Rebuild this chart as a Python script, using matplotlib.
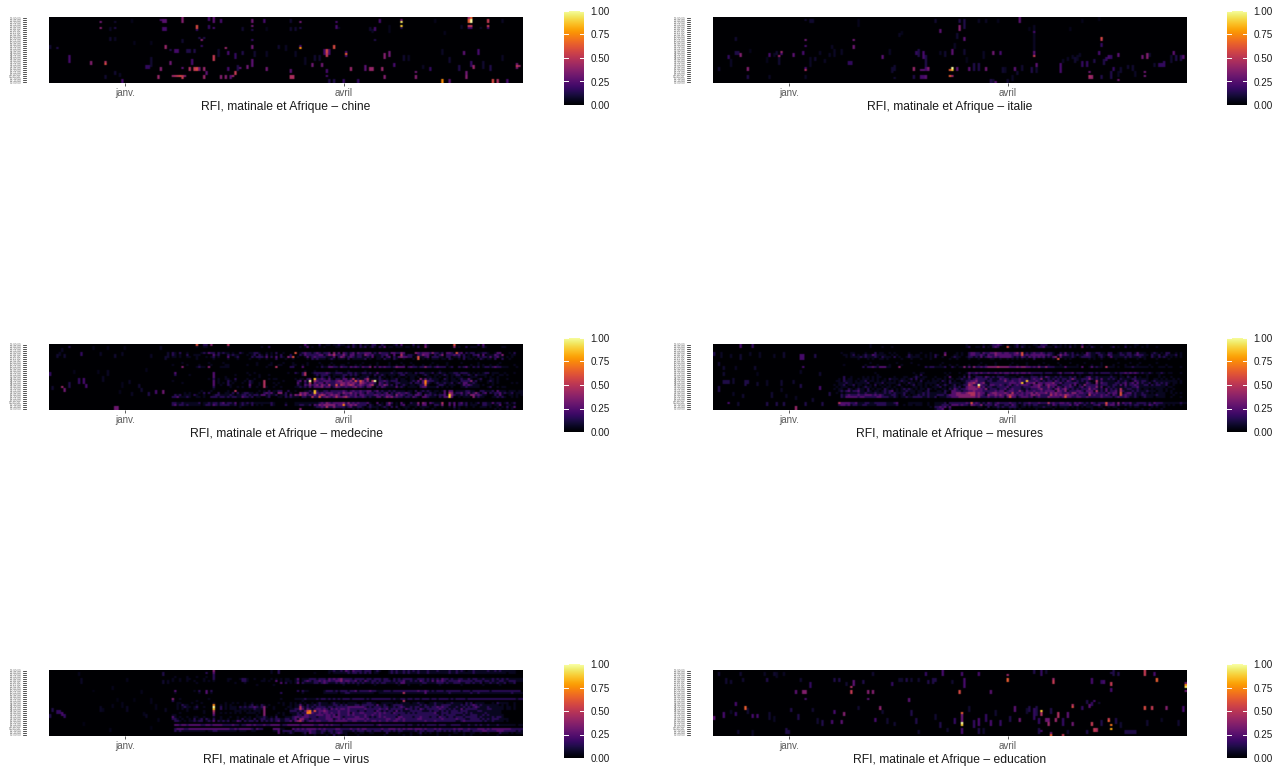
import datetime as dt

import matplotlib
matplotlib.use("Agg")
import matplotlib.dates as mdates
import matplotlib.pyplot as plt
import numpy as np

plt.rcParams["font.family"] = ["Liberation Sans", "DejaVu Sans"]

FIG_W, FIG_H = 1287, 767
N_DAYS, N_ROWS = 197, 33
START = dt.date(2019, 12, 1)
DENSE_FROM = 50  # the row strings start at this day
CONTRAST = 1.3  # my eye read the faint cells too high

TICK_DATES = [dt.date(2020, 1, 1), dt.date(2020, 4, 1)]
TICK_LABELS = ["janv.", "avril"]
BAR_TICKS = [0.0, 0.25, 0.5, 0.75, 1.0]
SLOTS = [f"{5 + i // 4:02d}:{(i % 4) * 15:02d}:00" for i in range(N_ROWS)][::-1]

# sparse cells: (day, first row, last row, value)
CHINE = [
    (21,2,2,.4),(21,5,5,.45),(27,2,2,.15),(27,5,5,.2),(30,31,32,.3),(46,1,1,.3),(47,1,2,.35),(48,1,2,.35),
    (47,5,6,.3),(48,5,6,.3),(55,0,2,.45),(61,4,5,.65),(61,6,6,.25),(63,11,11,.45),(64,10,10,.2),(62,10,10,.2),
    (66,0,1,.3),(66,4,5,.25),(68,0,2,.35),(68,5,5,.3),(71,1,2,.3),(48,14,15,.5),(84,1,2,.4),(84,4,4,.4),(84,6,6,.2),
    (84,11,11,.25),(84,14,15,.4),(89,1,2,.3),(104,2,2,.4),(104,5,5,.2),(104,15,15,.8),(104,14,14,.3),(119,2,2,.3),
    (119,4,5,.3),(146,1,1,.4),(146,2,2,.95),(146,4,4,.9),(146,5,5,.2),(174,0,0,.5),(175,0,0,.7),(174,1,2,.7),
    (175,1,2,1.0),(174,4,4,.6),(175,4,4,.6),(174,5,5,.3),(175,5,5,.3),(182,1,2,.6),(182,4,4,.6),(182,5,5,.3),
    (118,14,15,.65),(115,16,17,.65),(115,18,19,.6),(114,16,18,.3),(116,16,18,.3),(123,17,17,.3),(123,18,18,.7),
    (123,19,19,.3),(139,18,20,.45),(141,17,19,.4),(172,17,18,.35),(176,24,25,.5),(178,16,18,.3),(194,23,23,.4),
    (194,24,24,.6),(194,25,25,.4),(195,24,24,.5),(68,19,21,.6),(73,15,15,.5),(74,17,18,.3),(8,19,22,.3),(17,22,23,.45),
    (23,22,22,.55),(23,23,23,.65),(3,15,15,.2),(0,14,15,.15),(59,21,23,.3),(58,25,26,.55),(61,25,26,.65),(60,25,26,.6),
    (55,25,25,.35),(50,22,23,.4),(46,25,26,.45),(45,29,30,.5),(51,29,29,.5),(52,29,29,.55),(53,29,29,.6),(54,29,29,.65),
    (55,29,30,.6),(56,29,29,.45),(64,29,30,.5),(64,25,26,.5),(65,27,28,.35),(62,25,26,.4),(71,29,30,.45),(73,29,30,.45),
    (76,29,29,.5),(77,27,28,.6),(79,25,25,.35),(82,24,25,.4),(84,21,24,.35),(90,25,26,.4),(74,25,26,.3),(75,29,30,.35),
    (100,29,30,.55),(101,29,30,.55),(100,26,27,.35),(109,23,24,.4),(113,23,24,.4),(125,25,26,.5),(131,24,26,.35),(133,25,26,.5),
    (134,25,26,.5),(138,25,26,.5),(139,29,30,.45),(152,27,27,.4),(152,29,30,.45),(163,31,32,.8),(166,31,32,.35),(173,27,28,.4),
    (173,29,30,.45),(184,31,32,.65),(186,31,32,.55),(190,31,32,.3),(175,22,24,.25),(143,23,24,.3),(115,26,27,.3),(115,29,29,.3),
    (118,31,32,.2),(116,31,32,.2),(122,31,32,.25),(128,31,32,.25),(40,24,25,.25),(41,24,25,.25),(42,20,24,.15),(29,28,29,.12),
    (27,27,28,.15),(23,29,30,.15),(50,16,16,.2),(52,16,17,.3),(53,16,17,.3),(57,16,17,.2),(58,16,17,.2),(60,16,17,.2),
    (63,14,14,.25),(70,16,19,.15),(77,18,20,.25),(78,24,26,.2),(80,17,18,.2),(85,17,19,.15),(90,17,19,.12),(95,14,15,.15),
    (98,14,16,.12),(102,17,19,.12),(106,20,23,.12),(110,19,21,.15),(112,19,21,.15),(120,5,5,.12),(134,6,7,.12),(135,11,11,.2),
    (141,4,7,.1),(160,1,2,.1),(164,7,8,.1),(171,4,5,.12),(179,5,5,.12),(188,1,2,.12),(147,19,21,.15),(149,19,21,.12),
    (155,24,25,.12),(158,25,26,.25),(163,16,18,.12),(166,20,22,.15),(170,24,26,.2),(180,22,25,.15),(183,24,26,.2),(188,19,21,.12),
    (55,11,12,.15),(27,10,11,.12),(25,10,11,.15),(35,12,13,.1),(42,12,13,.1),(25,5,6,.12),(34,1,2,.1),(80,5,6,.15),(90,5,6,.1),
    (100,1,2,.15),(100,5,6,.15),(102,5,6,.15),(133,5,6,.15),(135,5,6,.3),(137,1,2,.3),
]

ITALIE = [
    (38,1,1,.15),(38,11,11,.4),(38,14,14,.3),(38,25,25,.3),(38,26,26,.55),(40,1,2,.15),(41,1,2,.15),(14,25,26,.45),
    (2,25,26,.15),(6,19,20,.25),(7,21,24,.12),(9,17,18,.2),(10,17,18,.2),(11,18,19,.45),(9,10,11,.15),(23,18,19,.3),
    (28,17,17,.5),(28,18,18,.3),(27,19,19,.5),(27,20,22,.15),(33,18,19,.35),(37,17,18,.3),(58,11,11,.4),(58,14,15,.4),
    (56,22,23,.25),(57,22,23,.25),(70,19,20,.35),(94,6,7,.35),(102,4,6,.45),(104,10,11,.35),(99,25,25,1.0),(99,26,26,.9),
    (98,26,26,.7),(98,29,29,.7),(99,29,29,.5),(99,16,18,.35),(89,25,25,.45),(89,26,26,.4),(88,25,26,.3),(86,26,26,.35),
    (87,26,26,.35),(86,29,30,.3),(87,29,30,.3),(88,29,30,.35),(83,25,26,.5),(83,29,30,.2),(101,25,26,.35),(106,25,26,.35),
    (113,25,26,.4),(116,17,18,.4),(119,17,18,.3),(125,25,26,.35),(133,17,17,.35),(133,18,18,.3),(133,19,19,.6),(133,6,7,.3),
    (134,23,24,.35),(127,0,2,.35),(161,10,10,.65),(161,11,11,.6),(161,13,14,.25),(160,17,18,.3),(156,29,29,.55),(156,30,30,.5),
    (156,27,27,.4),(157,29,30,.5),(155,22,24,.25),(153,22,24,.25),(164,19,20,.3),(165,19,20,.25),(168,18,19,.35),(168,31,31,.4),
    (178,19,20,.4),(180,18,20,.45),(179,27,27,.4),(179,29,29,.4),(185,23,24,.25),(186,23,24,.25),(187,22,24,.25),(191,17,18,.35),
    (195,19,20,.35),(144,23,27,.3),(117,32,32,.35),(102,1,2,.2),(104,1,5,.2),(100,13,15,.12),(101,8,10,.15),(104,16,18,.15),
    (96,17,19,.15),(94,17,18,.12),(92,1,2,.15),(85,16,19,.2),(84,17,18,.25),(87,17,20,.3),(88,19,24,.2),(120,25,27,.15),(121,25,27,.12),
    (128,24,26,.15),(132,25,27,.2),(134,25,27,.15),(133,8,16,.12),(112,17,20,.12),(110,23,26,.2),(108,23,26,.2),(105,20,22,.1),
    (75,30,30,.15),(74,25,27,.15),(75,24,26,.15),(73,16,18,.12),(77,8,9,.12),(78,7,8,.1),(60,1,4,.1),(50,16,19,.12),(53,16,18,.12),
    (40,20,24,.12),(42,20,21,.15),(44,17,18,.12),(49,14,15,.12),(48,18,19,.12),(46,21,22,.12),(38,29,30,.12),(14,29,30,.2),
    (23,29,30,.12),(27,21,23,.15),(26,17,18,.15),(25,18,19,.12),(22,20,22,.1),(15,16,17,.1),(115,31,32,.2),(116,31,32,.15),
    (122,31,32,.15),(124,29,31,.12),(126,27,28,.15),(150,20,22,.15),(151,19,21,.12),(158,21,22,.2),(162,21,23,.2),(163,20,21,.25),
    (166,25,26,.25),(169,25,27,.15),(172,24,25,.15),(174,24,26,.15),(181,18,19,.15),(183,23,24,.15),(190,19,22,.15),(192,19,21,.2),
    (194,19,21,.2),(145,21,22,.12),(147,20,21,.12),(149,19,20,.12),(152,18,19,.12),(161,29,30,.2),(165,27,30,.2),(168,27,29,.12),
    (175,27,29,.12),(110,1,2,.12),(113,1,2,.12),(118,1,2,.1),(131,5,6,.1),(133,4,6,.12),(148,5,6,.1),(160,0,1,.1),(153,1,2,.1),
]

EDUCATION = [
    (103,21,21,.7),(103,22,22,.4),(103,23,25,.38),(103,26,26,1.0),(103,27,27,.9),(179,0,2,.6),(184,4,5,.7),(183,1,2,.3),
    (122,2,2,.5),(122,4,5,.7),(141,4,4,.5),(141,5,6,.6),(165,6,7,.6),(165,9,10,.3),(157,4,6,.3),(196,6,6,.4),(196,7,7,.8),
    (196,8,8,.95),(196,10,10,.4),(102,10,11,.65),(57,8,8,.55),(57,10,11,.6),(58,5,7,.35),(64,10,11,.45),(66,10,11,.45),
    (64,14,14,.35),(34,10,11,.35),(37,10,11,.45),(38,10,11,.45),(38,14,14,.3),(40,6,7,.25),(13,18,19,.7),(9,16,17,.3),
    (0,23,24,.35),(4,21,23,.3),(16,22,23,.3),(18,22,23,.3),(54,21,22,.45),(50,20,21,.3),(49,25,26,.3),(53,25,26,.35),
    (69,18,18,.45),(69,19,19,.5),(81,14,15,.35),(67,24,25,.3),(136,20,20,.9),(136,21,22,.55),(138,24,25,.4),(139,24,25,.4),
    (143,21,23,.55),(139,26,27,.5),(142,24,25,.5),(147,21,23,.35),(149,17,17,.55),(149,18,18,.65),(149,26,27,.4),(158,15,15,.3),
    (156,17,18,.35),(179,18,19,.65),(182,18,19,.6),(188,18,19,.45),(164,24,24,.6),(164,25,25,.7),(165,27,27,.75),(165,29,29,.85),
    (157,26,27,.6),(158,29,30,.6),(159,29,30,.55),(140,31,31,.4),(140,32,32,.7),(145,32,32,.6),(171,30,31,.2),(172,30,31,.2),
    (173,30,31,.2),(174,30,31,.2),(175,30,31,.2),(125,18,20,.35),(127,24,25,.4),(115,10,11,.35),(104,4,8,.3),(95,0,2,.3),
    (103,1,2,.3),(110,1,2,.3),(74,6,7,.25),(22,4,5,.2),(40,6,8,.25),(12,4,5,.15),(2,1,2,.15),(5,4,6,.15),(7,5,6,.15),(11,1,2,.15),
    (21,1,2,.12),(25,1,2,.15),(26,1,3,.12),(29,1,2,.12),(36,4,5,.15),(50,4,5,.2),(52,4,5,.2),(55,6,7,.15),(62,5,6,.2),(66,1,2,.15),
    (77,4,5,.15),(78,4,5,.15),(80,4,5,.2),(82,4,5,.15),(85,4,5,.15),(88,1,2,.25),(89,5,6,.2),(91,4,6,.2),(92,4,5,.2),(99,5,6,.15),
    (9,21,22,.25),(7,20,21,.12),(14,19,21,.15),(23,21,24,.15),(25,23,25,.12),(32,19,20,.2),(35,22,24,.2),(41,19,20,.15),(43,24,26,.15),
    (45,25,27,.2),(60,18,19,.15),(70,20,21,.15),(72,24,26,.15),(75,26,27,.15),(82,20,22,.2),(84,24,26,.2),(92,22,24,.15),(94,26,28,.2),
    (100,24,26,.25),(106,18,20,.15),(108,25,28,.25),(110,24,27,.3),(113,22,25,.25),(115,25,27,.3),(117,20,22,.15),(119,25,27,.25),(123,23,25,.2),
    (130,19,21,.15),(131,18,20,.2),(133,19,24,.25),(134,18,22,.2),(135,24,26,.25),(140,19,21,.2),(145,24,27,.25),(153,18,19,.25),(155,15,16,.2),
    (157,16,17,.25),(160,16,16,.15),(161,25,27,.2),(167,24,26,.2),(169,26,28,.15),(180,25,27,.15),(186,24,25,.12),(193,25,27,.15),(195,18,20,.3),
    (110,29,31,.2),(112,29,31,.15),(103,29,31,.3),(97,29,30,.15),(85,30,31,.15),(30,29,31,.2),(31,30,31,.2),(10,30,31,.15),(16,30,32,.12),
    (135,29,31,.2),(136,30,30,.3),(147,30,31,.15),(155,30,31,.2),(166,0,2,.2),(168,1,2,.2),(165,1,1,.2),(161,5,6,.25),(162,5,6,.3),(133,0,1,.2),(136,0,2,.25),(138,0,1,.15),
]

# left part of the dense panels (days before DENSE_FROM)
MEDECINE_LEFT = [
    (5,21,21,.5),(6,22,23,.4),(0,14,15,.25),(1,21,22,.15),(8,19,21,.2),(12,17,19,.25),(14,17,19,.3),(15,20,21,.3),(8,1,1,.2),(13,4,5,.25),
    (3,5,6,.15),(6,5,6,.15),(21,4,5,.12),(27,5,6,.15),(30,4,5,.12),(24,13,15,.12),(22,16,18,.12),(37,20,21,.15),(33,18,19,.12),(38,22,23,.15),
    (44,23,24,.3),(47,23,24,.4),(41,24,25,.2),(27,31,32,.4),(28,31,32,.4),(42,5,6,.12),(46,1,2,.12),(48,6,7,.15),(49,4,6,.15),(30,19,21,.1),
    (34,24,25,.12),(29,23,24,.1),(20,13,14,.1),(10,13,14,.1),(18,1,2,.1),(24,1,2,.1),(31,1,2,.1),(40,12,13,.1),(5,2,3,.12),(4,4,5,.12),
]
MESURES_LEFT = [
    (11,0,1,.3),(16,0,1,.25),(34,31,32,.5),(3,4,6,.12),(7,5,6,.12),(11,5,7,.15),(15,4,5,.12),(19,4,6,.12),(25,5,6,.12),(29,4,6,.15),(36,5,7,.3),(37,5,7,.3),
    (42,5,6,.2),(4,18,19,.2),(5,18,19,.2),(6,18,19,.2),(8,17,19,.15),(13,18,20,.2),(14,18,19,.2),(18,19,20,.15),(22,18,20,.12),(28,18,20,.15),(33,18,19,.15),
    (36,20,21,.2),(44,21,22,.3),(2,21,23,.2),(8,24,25,.12),(12,25,26,.15),(24,24,26,.15),(30,25,26,.12),(48,24,25,.2),(6,29,29,.3),(10,29,30,.15),(22,29,30,.2),
    (26,29,30,.2),(29,29,30,.2),(38,29,30,.2),(45,29,30,.2),(4,11,12,.15),(9,11,12,.12),(17,11,12,.15),(37,11,11,.3),(0,4,5,.2),(2,9,10,.15),(36,13,14,.12),
    (4,14,15,.15),(44,14,15,.15),(18,14,15,.1),(28,22,23,.12),(34,26,27,.12),(41,27,28,.15),
]
VIRUS_LEFT = [
    (1,19,20,.2),(3,20,21,.25),(4,20,21,.25),(5,21,22,.3),(6,22,23,.25),(0,22,23,.2),(13,4,6,.12),(12,1,2,.1),(21,18,20,.12),(22,19,20,.1),(26,17,18,.1),(30,16,18,.1),
    (32,18,20,.12),(44,17,19,.1),(48,19,20,.12),(47,1,2,.2),(47,5,6,.15),(49,5,6,.12),(42,14,16,.1),(32,4,5,.1),(26,8,9,.1),(18,10,10,.08),(40,22,23,.12),(45,24,25,.1),
    (39,21,22,.1),(14,26,27,.08),(25,29,30,.1),(42,28,29,.08),(38,10,11,.1),(28,14,15,.08),(35,14,15,.08),
]

# dense part, one digit per day from DENSE_FROM on (0 = none, 9 = maximum)
MEDECINE_ROWS = [
    "0000000000 0600220400 0000500000 0000000000 0000000000 0000003100 0020011011 2110102102 0110220021 0001203000 0201003100 0000000060 0000000020 3000000000 0000000",
    "0000000000 0100110000 0000100000 0000000010 0200000000 0000101301 0010100001 1001202102 1201210213 0110111011 0102004100 0000000040 1002011100 2100000011 0000000",
    "0000000000 0000000000 0000000000 0000000000 0000000000 0000000000 0000000000 0000000000 0000000000 0000000000 0000000000 0000000000 0000000000 0000000000 0000000",
    "0000000000 0000000000 0000000000 0000000000 0000000000 0000000000 0000000000 0000000000 0000000000 0000000000 0000000000 0000000000 0000000000 0000000000 0000000",
    "0210200100 0001213220 2121101002 1001122100 1010200100 0060123221 2321223041 3032123132 2333121322 2133224300 0043233324 2212033216 2302122011 2210013300 0102000",
    "0210100200 1110000031 2000212110 0010120210 2010102000 2000213222 2233124352 2242133122 1432311122 3103005212 2102243310 2124022232 3120102230 3011132140 0011000",
    "0110100110 0100010120 1000300120 0000212221 3020302104 2601001312 3222211130 2431232122 1121301120 2302134332 2016112302 2211022011 2021101021 2213123110 1010000",
    "0000000000 0100000010 0000100010 0001000100 1000200010 0100000102 1211101210 1110201111 1201001102 1102100100 0106010101 1101102100 1020110102 1011020020 0100000",
    "0000000000 0000000000 0000000000 0000000000 0000000000 0000000000 0000000000 0000000000 0000000000 0000000000 0000000000 0000000000 0000000000 0000000000 0000000",
    "0000010000 0000001000 0010000000 0000001000 0010000100 0100000100 0010000100 0000100000 1000001000 0100001000 1000000001 0000010000 0100000010 0000000100 0000000",
    "0100000100 0010000100 0001100000 0010001000 0110011000 0110010100 0001001010 0110000101 0001001000 0100100100 0100010010 0100010000 0000010010 1001001000 0001000",
    "0000040000 0121104000 0111100000 0000000000 1000500000 2200030000 0102113322 1322132321 3224031323 2212433302 3221224221 2322201200 2123102120 1221232211 1000100",
    "0000000000 0000000000 0000000000 0000000000 0000000000 0000000000 0000000000 0000000000 0000000000 0000000000 0000000000 0000000000 0000000000 0000000000 0000000",
    "0000000000 0000000000 0000000000 0000000000 0000000000 0000001000 1000000001 0000100000 0100000000 0001000000 0000000000 0010000000 0000000000 0000000000 0000000",
    "0030000000 0000000030 0000000000 0010010000 0000000001 0021025001 2222232112 2211221211 2212113111 1121122121 1021221112 0121101122 1222101010 1220111001 0001000",
    "0020000010 0000000030 0000000100 0001000100 0100000000 0000025000 1212221011 1122121210 1111021121 0111012201 1110012100 1101210112 2011210211 1100100110 1000000",
    "0000000000 0000000030 0001000000 0000000100 0000000000 0000000000 0102102010 0120010101 1120010201 0010010010 1101000110 1010010101 1100011100 0101001000 0000000",
    "0000000000 0000001020 1001100200 0010010000 0101100000 0010110230 8223213102 2133125121 1351111210 1011201100 1100413121 1100210110 1211310012 0001101000 1000000",
    "0100000000 0000000030 1000210100 0102100005 0000000100 0002303190 5322333223 4423342636 4241590223 2122201110 1213137322 1101110111 0222241201 0012101000 0000000",
    "0000010000 0000000030 1010201000 1002100105 0001010000 0003102150 3233132223 3443434325 4323320321 2101221111 2022137210 1211211201 2133112100 0010101000 0010100",
    "0000000000 0000000030 0100210000 0003000105 0000100000 0002103242 3424325226 2543454234 3234511324 3120201210 1101226100 0122101110 0132321110 1000100000 0000000",
    "0000000000 0000000020 0000010010 1002001005 1001001000 0011212131 3334233124 3223223423 2133102132 1111312101 1110233111 1201010100 0112111110 0012001011 0000000",
    "0000000000 0000000010 0000000000 0000000000 0000000000 0000000000 0000000000 0000000000 0000000000 0000000000 0000000000 0000000000 0000000000 0000000000 0000000",
    "0000000000 0001000100 0000100500 0000000101 0201122002 0010001121 8211221222 2232123223 2233123121 1212111101 1020121210 1101303301 1112211002 2111203111 0111011",
    "0000001010 0010202000 2001102020 1221101002 3231044020 1000434312 8323233322 3243342323 2132212212 3021232232 1013201121 1010305412 2312312420 2302122312 1120111",
    "0021201110 2100100012 2111121011 2212122133 1211201120 3143534232 4245423434 3123232313 3222233232 3321423212 2133203221 2122318421 1212144232 1100021310 0110101",
    "0223111210 0110100222 1221212211 3221201100 1200011021 2111022115 2262343235 3345322322 3212113312 4342322122 1321033211 1021338300 1011104121 1000112121 0010100",
    "0000000000 0000000000 0000000000 0000000000 0000000000 0000000000 0000000000 0000000000 0000000000 0000000000 0000000000 0000000000 0000000000 0000000000 0000000",
    "0000000000 0000000000 0000000000 0000000000 0000000000 0000000000 0000000000 0000000000 0000000000 0000000000 0000000000 0000000000 0000000000 0000000000 0000000",
    "0221121111 1120112122 1231221301 2121211111 1121000010 0011111111 1123243233 3342423232 2231003010 2420103100 2114043032 1115003130 2312010120 2211312201 2012000",
    "0231221211 1110122132 1222211201 2110201010 0021000020 0011221120 3243444442 3372343422 2202101210 2310102301 1113033010 2214003030 2212011100 2211011300 1101000",
    "0000000000 0000000000 0000000001 0000000000 0000000000 0000000000 1223252242 2221231122 1012111012 1020200111 0010111100 1001001020 1001001001 1101001010 2013000",
    "0000000000 0000000000 0000000000 0000000000 0000000000 0000400000 0001000010 0010001010 1001001000 1000010010 0100010001 0000000010 1000000000 0000010100 1010000",
]

MESURES_ROWS = [
    "0000000000 0000010000 0000000000 0000000000 0000000000 0000010000 0010012232 1010012011 0001102220 0110101010 1002001000 0000000000 0100011000 1000000000 0000000",
    "0000000000 0000010000 1000100000 0000000000 0000000000 0000012001 1020102320 0061012021 0100122311 1021101020 1004010210 0100012010 0201010010 1000100000 0000000",
    "0000000000 0000000000 0000000000 0000000000 0000000000 0000000000 0000000000 0000000000 0000000000 0000000000 0000000000 0000000000 0000000000 0000000000 0000000",
    "0000000000 0000000000 0000000000 0000000000 0000000000 0000000000 0000000000 0000000000 0000000000 0000000000 0000000000 0000000000 0000000000 0000000000 0000000",
    "0001000110 0001000201 1001010000 0100001000 1000003000 0101002332 2132233433 2332234261 2123223212 2100213112 0101032112 2110220012 1122013111 0012101022 0010100",
    "0000110120 1012113211 1100101000 0210110010 1021004000 1101002332 2321322433 3333233262 3233333323 2102423212 1211232110 2211321112 2122123221 1021120121 1120100",
    "0000010111 1212111210 2111020100 1211110010 1020010001 2110012212 1312332323 3333212132 1323232312 1340311112 1012222110 1210131111 1212111211 0021021210 1010100",
    "0000000000 1000101001 1010000010 0010001000 1000000010 0100001000 1000011001 0010101010 1002000100 0106001010 0000001010 0100000100 0100001001 0000100001 0000000",
    "0000000000 0000000000 0000000000 0000000000 0000000000 0000000000 0000000000 0000000000 0000000000 0000000000 0000000000 0000000000 0000000000 0000000000 0000000",
    "0000000000 0000010000 0000001000 0010000000 0000010000 0000000000 0100000100 0000100000 1000000100 0001000010 0000100000 0100000010 0001000100 0000100000 0000000",
    "0000100000 0001000010 0001000010 0000010000 0000100010 0100001000 1001000100 0001001000 1000010001 0000100000 0100000100 0100001000 0100001000 0100000010 0000000",
    "0000000000 0020223213 3311000400 0000000021 2211112002 1011413142 2323444454 4443334344 3323242242 2211113111 1103001312 1105111010 0111211111 1010011101 1000100",
    "0000000000 0000000000 0000000000 0000000000 0000000000 0000000000 0000000000 0000000000 0000000000 0000000000 0000000000 0000000000 0000000000 0000000000 0000000",
    "0000000000 0000000000 0000000000 0000000000 0000000000 0000000000 0000000000 0000000000 0000000000 0000000000 0000000000 0000000000 0000000000 0000000000 0000000",
    "0000000000 0000000100 0000000000 0001001100 0000001010 0010013223 2322322323 2332323233 2322222122 2112312223 1222112212 1222211212 2323232121 1210112101 1000100",
    "0000000000 0000000010 0000000000 0000102000 0000000100 0000102011 0000000010 0110001000 0010001000 0000100000 0010000100 0000010001 0010000000 1000010000 0000000",
    "0000200100 0010101011 0000010001 1001210110 0010001030 0010203102 2213212122 2111110121 1122212132 1121211121 2010123112 1111121101 1021020100 1000010100 1000000",
    "0010201100 1011101010 0102111011 0120201100 0101101011 0112112123 2222121113 2321222322 2123224112 1212122124 2112224212 1311212102 1111221111 1001101010 0101000",
    "0110211101 0112011010 1101010121 1010102001 0111021020 1001122334 2221221122 2422322322 8222321212 2132121321 1212121015 1211111021 1210132122 1012111111 1110100",
    "0011121101 1111200111 2011110101 0211011011 1110101021 1110124453 2341122222 2223332381 3334133233 3422312222 3211132104 1322111221 2312313121 1201212121 0110100",
    "1011201120 1101010201 0101001200 1012011010 1012012101 2011225422 9322133223 2123123233 3213343134 3331122231 3021422223 1222112213 1312232112 2021221120 0100000",
    "0101110010 1012110100 1011010010 0001101010 0111201011 2120134443 6231221122 2231222212 2233342224 2313213232 1123123224 1301212111 1211223111 1111111101 1000000",
    "1011002101 2110201011 0210101012 1210101102 1010011021 3212234444 3324122212 2312322211 2122234223 2134234212 1212224232 1213121215 1122112101 1010111010 0100000",
    "0012123122 3110210110 1212301011 2111011012 0001102103 3221223343 3322222323 3123322421 3223223233 3314324122 2332133315 1213122315 2111212111 2111011010 1000000",
    "0101011111 2112111211 1212121112 1011011212 1111112003 3443345553 4331234433 3432523232 3342433342 4343322324 4233224323 2221323316 1233121121 1010111100 1010100",
    "0002123222 3223332323 2111221012 0101121212 1112221233 3444444553 4321433434 3245432332 3244342222 5343435433 2322215232 2323213216 2322121122 1111211100 0100000",
    "0002133333 2332222233 2221121011 2112222112 1120111223 3344444443 4222322323 3136331233 3231232224 3333236332 2332232222 2322221232 2321121012 1110111100 1000100",
    "0000000000 0000000000 0000000000 0000000000 0000000000 0000000000 0000000000 0000000000 0000000000 0000000000 0000000000 0000000000 0000000000 0000000000 0000000",
    "0000000000 0000000000 0000000000 0000000000 0000000000 0000000000 0000000000 0000000000 0000000000 0000000000 0000000000 0000000000 0000000000 0000000000 0000000",
    "0053333223 1112211222 2211123000 0111111001 0011112022 2222232623 2121321232 2223221212 2322232225 2322332321 3232121321 2226223141 3223112222 1213222111 1111211",
    "0023323122 1122111122 2211112001 0110111001 0011122213 3323221432 2412221321 1221321012 1212211112 1321222231 2311211122 3115233131 1212122112 1321211101 0100100",
    "0000000000 0000000000 0000000000 0000000000 1022323130 0000000000 1100201121 2112221011 0101111211 1010111101 0101011100 1100101100 0001011000 0010100100 0000000",
    "0000000000 0000000000 0000000000 0000000000 0012230020 0000000000 0001000010 0001010100 0000100000 0100001000 0100000100 0010000010 0100000010 0100001000 0000000",
]

VIRUS_ROWS = [
    "0000000000 0000000040 0000000000 0000000000 0010020000 0000000000 0000001121 1213213222 1222012100 0121211212 1212111211 1211112112 1210112111 1121121211 1111000",
    "0000000000 0000020030 0000000000 0000000000 0010020000 0000000000 1000001011 1111212212 1212011000 0121211212 1112111211 1111112112 1111112111 1111111111 0111000",
    "0000000000 0000000020 0000000000 0000000000 0000000000 0000000000 0000000000 0000000000 0000000000 0000000000 0000000000 0000000000 0000000000 0000000000 0000000",
    "0010000100 0100010020 0000000000 0000000000 0000000000 0000000000 0000000000 0000000000 0000000000 0000000000 0000000000 0000000000 0000000000 0000000000 0000000",
    "0100100110 0000100020 0000110001 2210010001 0010101011 0013011122 2122213232 3422221222 2122122212 2102121222 2112221212 1213221211 2211212211 2111212121 2111111",
    "0100100100 1000101010 0000100000 2210000011 0100301011 1012012321 2232323223 3423322312 1321221212 2212122311 2121321213 1323212222 3222221222 1221211221 1222111",
    "0000000000 0100000000 0000000100 0100000000 0000003020 1013021111 2212321112 1221212121 2111212122 1111213311 1111122111 1222121122 2112212112 0112112112 0112000",
    "0000000000 0000000000 0000000000 0000001000 0001000000 0000000000 0000000000 0010000010 0000010000 0000010001 0000100000 0010000000 0100000000 1000000100 0000000",
    "0000000000 0000000000 0000000000 0000000000 0000000000 0000000000 0000000000 0000000000 0000000000 0000000000 0000000000 0000000000 0000000000 0000000000 0000000",
    "0000000000 0000000000 0000000000 0000000000 0000000000 0000000000 0000000000 0000000000 0000000000 0000000000 0000000000 0000000000 0000000000 0000000000 0000000",
    "0030000000 1020030200 0000000000 0000000000 0000000000 0002021100 0000122212 1222122312 2223221112 2212222222 2223223212 1222122222 2122212222 2221222222 2222220",
    "0010000000 0010030100 0000000000 0000000000 0000002000 0000010000 0000111111 0112211111 1111100111 1111111511 1111113111 1111112111 1111121121 1111111111 1121111",
    "0000000000 0000000000 0000000000 0000000000 0000000000 0000000000 0000000000 0000000000 0000000000 0000000000 0000000000 0000000000 0000000000 0000000000 0000000",
    "0000000000 0000000000 0000000000 0000000000 0000000000 0000000000 0000000000 0000000000 0000000000 0000000000 0000000000 0000000000 0000000000 0000000000 0000000",
    "0400100000 0000001000 0000000000 0000000000 0000001000 0011112111 1212212121 2122212222 2121222222 2212112212 2122122212 2122221212 2221222222 2222222222 2222122",
    "0200000000 0100000000 0000000000 0000000000 0000000000 0000010000 0000000000 0000000000 0000000000 0000000500 0000000000 0000000000 0000000000 0000000000 0000000",
    "0001100001 0001000010 0001001010 0100100000 0000010100 1010101001 0121110121 1010111100 1122110011 1110101111 0112110011 2111011211 1102120111 1000102111 1001000",
    "0001021100 0100000070 0101010000 0101201021 0100000100 1011310211 2121111122 1212111221 2222213112 1012222111 1111212111 2112222111 1212123212 1111111010 1001000",
    "0001012110 1200100090 0201011102 1212232124 1001000001 1011521212 1222212212 2222333333 3212122212 2112123211 2122112212 2323221112 1121212321 1121111110 1101000",
    "0001010100 1100000080 0201011101 1111121114 0001000010 1122531321 2332321323 2332322222 2322222322 3122222132 2121321222 2232212121 1312222211 1122111110 1101000",
    "0000000100 0000100050 0000000111 0101011104 0000000000 2221213672 6233432222 3222322212 2122213212 1221312111 2222211121 2212121222 1222111122 1111111100 0000000",
    "0000100000 0000100040 0101010101 0011110104 0000010100 1112122773 2232332322 3222313223 3222232323 2213222212 1212222222 3112221222 2212121111 1211111100 0000000",
    "0110000000 0000000030 0000000000 0000001004 0000100100 0112213322 2333233231 3222323222 2322322322 2222212222 2222222222 2212122221 1121122211 2121111110 0000000",
    "0310100100 1100100010 0100010010 0101001112 1010200011 1233233322 2122233233 3212222332 2321212323 2222133222 2122322212 2132212212 2212222212 1111212210 0000000",
    "0221010010 2012021020 0100100010 2011020122 1121221122 1231442212 2222233312 3232333333 3232222222 3322332322 2223322222 2223222223 2221122221 2121222111 1000000",
    "0022101011 2122012130 2121201132 0212212021 2121231122 3134531233 2332223323 3333223322 2322332322 3223322322 2222223222 3222222221 1232222222 1211211110 1000000",
    "0000000000 0000000000 0000000000 0000000000 0000000000 0000000000 0000000000 0000000000 0000000000 0000000000 0000000000 0000000000 0000000000 0000000000 0000000",
    "0033233233 3332233233 3322223221 2233232223 2233331223 3333233333 2233232322 2122222222 2222212322 2222222212 2112121222 2122211222 2111211212 1121112111 1111011",
    "0000000000 0000000000 0000000000 0000000000 0000000000 0000000000 0000000000 0000000000 0000000000 0000000000 0000000000 0000000000 0000000000 0000000000 0000000",
    "0023332233 3333333333 3333322323 3333213220 0003331100 0323232333 3232322223 3222232232 3322222232 2333232323 3233323222 3232222232 3322322233 3232333333 3322222",
    "0021211111 1111101122 1111111101 1100110000 0001130222 2122222232 2112212212 2211112122 2122122212 2212122111 1121221222 1221212121 2122212222 3322223332 2222121",
    "0000000000 0000000000 0000000000 0000000000 0000030101 2100012032 2112101212 3211000101 1001100000 2000010000 1001201010 0100000011 0010011001 0010000211 1010111",
    "0000000000 0000000000 0000000000 0000000000 0000000000 0000001000 1000010020 1001000010 0000000001 0000000100 1000100000 0100001000 0010010000 0000001000 0000000",
]

PANELS = [
    ("chine", CHINE, None),
    ("italie", ITALIE, None),
    ("medecine", MEDECINE_LEFT, MEDECINE_ROWS),
    ("mesures", MESURES_LEFT, MESURES_ROWS),
    ("virus", VIRUS_LEFT, VIRUS_ROWS),
    ("education", EDUCATION, None),
]


def build_grid(cells, rows):
    grid = np.full((N_ROWS, N_DAYS), 0.012)
    if rows:
        for r, row in enumerate(rows):
            digits = row.replace(" ", "")
            for d, ch in enumerate(digits):
                if ch != "0" and DENSE_FROM + d < N_DAYS:
                    grid[r, DENSE_FROM + d] = int(ch) / 9
    for day, r0, r1, value in cells:
        grid[r0:r1 + 1, day] = value
    return grid ** CONTRAST


def axes_px(fig, left, top, width, height):
    return fig.add_axes([left / FIG_W, 1 - (top + height) / FIG_H, width / FIG_W, height / FIG_H])


def plot_heatmap(fig, left, top, name, grid):
    ax = axes_px(fig, left, top, 474, 66)
    first = mdates.date2num(START) - 0.5
    ax.imshow(grid, cmap="inferno", vmin=0, vmax=1, aspect="auto", extent=(first, first + N_DAYS, N_ROWS, 0))
    for spine in ax.spines.values():
        spine.set_visible(False)
    ax.set_xticks([mdates.date2num(d) for d in TICK_DATES], TICK_LABELS)
    ax.tick_params(axis="x", length=2, width=0.6, color="#444444", labelcolor="#5a5a5a", labelsize=7.1, pad=1.5)
    ax.set_xlabel(f"RFI, matinale et Afrique \u2013 {name}", fontsize=8.7, color="#1a1a1a", labelpad=2.0)
    ax.set_yticks(np.arange(N_ROWS) + 0.5, SLOTS)
    ax.tick_params(axis="y", length=0, labelsize=2.2, labelcolor="#808080", pad=20)
    # short dashes of the row guide, away from the panel
    for r in range(N_ROWS):
        y = 1 - (top + 2 * r + 1) / FIG_H
        fig.add_artist(plt.Line2D([(left - 26) / FIG_W, (left - 23) / FIG_W], [y, y], color="#222222", lw=0.55))


def plot_colorbar(fig, left, top):
    ax = axes_px(fig, left, top, 20, 94)
    gradient = np.linspace(1, 0, 256).reshape(-1, 1)
    ax.imshow(gradient, cmap="inferno", vmin=0, vmax=1, aspect="auto", extent=[0, 1, 0, 1])
    for spine in ax.spines.values():
        spine.set_visible(False)
    ax.set_xticks([])
    ax.yaxis.tick_right()
    ax.set_yticks(BAR_TICKS, [f"{t:.2f}" for t in BAR_TICKS])
    ax.tick_params(axis="y", length=0, labelsize=7.1, labelcolor="#1a1a1a", pad=4.5)
    for t in BAR_TICKS:
        ax.plot([0, 0.2], [t, t], color="white", lw=0.7, clip_on=False)
        ax.plot([0.8, 1], [t, t], color="white", lw=0.7, clip_on=False)
    ax.set_xlim(0, 1)
    ax.set_ylim(0, 1)


def main():
    fig = plt.figure(figsize=(FIG_W / 100, FIG_H / 100), dpi=100, facecolor="white")
    tops = [17, 344, 670]
    bar_tops = [11, 338, 664]
    lefts = [49, 713]
    bar_lefts = [564, 1227]
    for i, (name, cells, rows) in enumerate(PANELS):
        row, col = i // 2, i % 2
        plot_heatmap(fig, lefts[col], tops[row], name, build_grid(cells, rows))
        plot_colorbar(fig, bar_lefts[col], bar_tops[row])
    fig.savefig("out.png", dpi=100)


if __name__ == "__main__":
    main()
